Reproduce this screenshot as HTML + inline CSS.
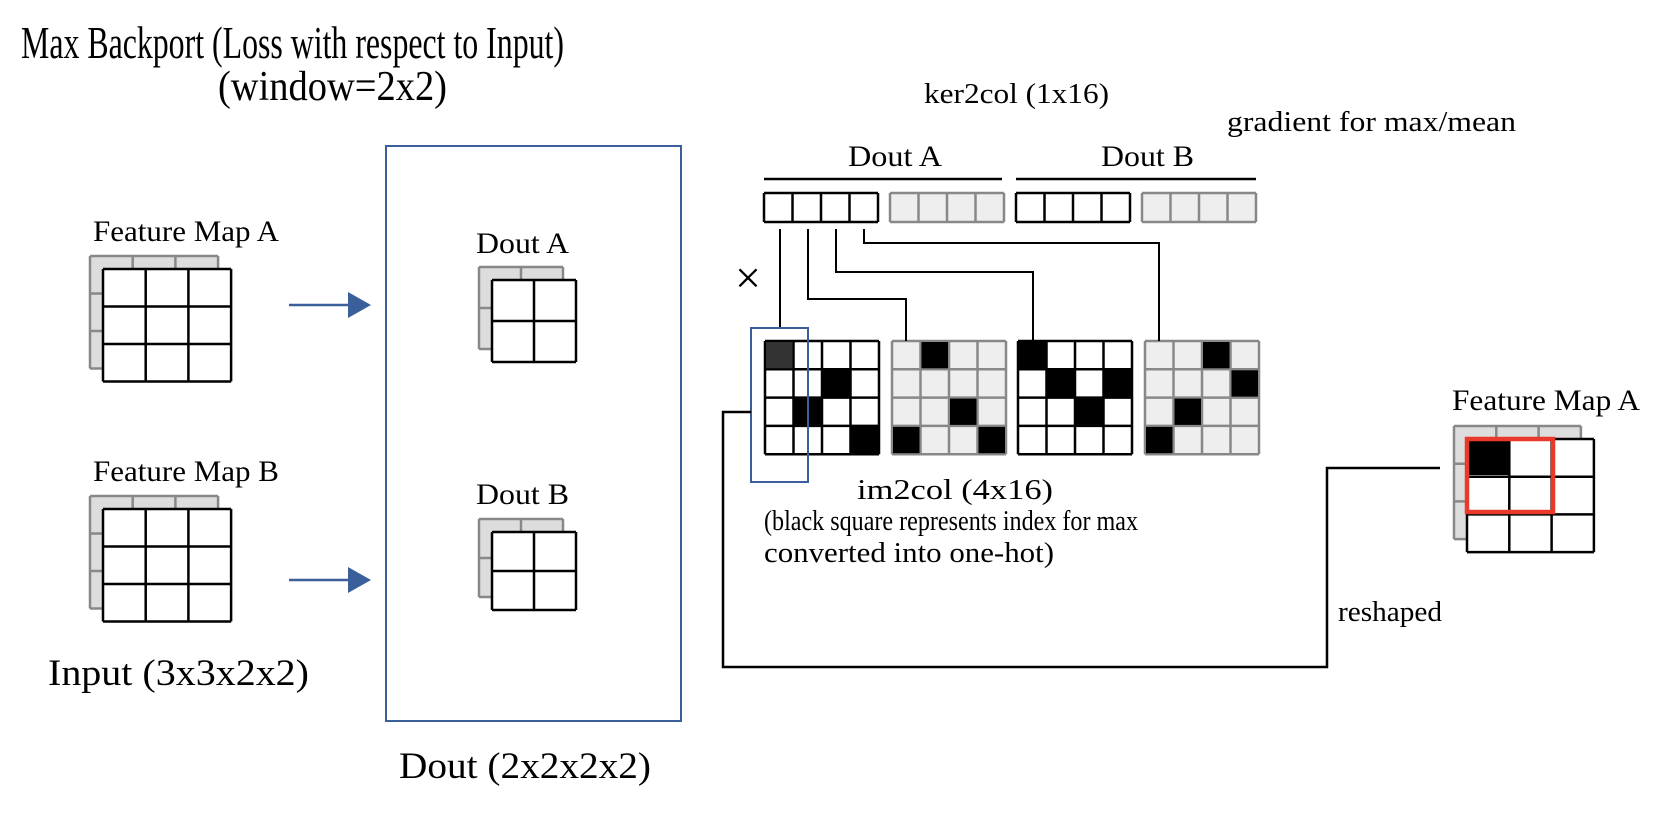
<!DOCTYPE html>
<html><head><meta charset="utf-8"><style>
html,body{margin:0;padding:0;background:#fff;}
svg{display:block;}
text{font-family:"Liberation Serif",serif;fill:#000;}
</style></head><body>
<svg id="s" width="1670" height="814" viewBox="0 0 1670 814" xmlns="http://www.w3.org/2000/svg">
<text x="21" y="58" font-size="46" textLength="543" lengthAdjust="spacingAndGlyphs">Max Backport (Loss with respect to Input)</text>
<text x="218" y="100" font-size="42" textLength="229" lengthAdjust="spacingAndGlyphs">(window=2x2)</text>
<text x="93" y="241" font-size="30" textLength="186" lengthAdjust="spacingAndGlyphs">Feature Map A</text>
<text x="93" y="481" font-size="30" textLength="186" lengthAdjust="spacingAndGlyphs">Feature Map B</text>
<text x="48" y="685" font-size="37" textLength="261" lengthAdjust="spacingAndGlyphs">Input (3x3x2x2)</text>
<rect x="386" y="146" width="295" height="575" fill="none" stroke="#3a5f9a" stroke-width="2"/>
<text x="476" y="253" font-size="30" textLength="93" lengthAdjust="spacingAndGlyphs">Dout A</text>
<text x="476" y="504" font-size="30" textLength="93" lengthAdjust="spacingAndGlyphs">Dout B</text>
<text x="399" y="778" font-size="37" textLength="252" lengthAdjust="spacingAndGlyphs">Dout (2x2x2x2)</text>
<text x="924" y="103" font-size="28" textLength="185" lengthAdjust="spacingAndGlyphs">ker2col (1x16)</text>
<text x="1227" y="131" font-size="28" textLength="289" lengthAdjust="spacingAndGlyphs">gradient for max/mean</text>
<text x="848" y="166" font-size="30" textLength="94" lengthAdjust="spacingAndGlyphs">Dout A</text>
<text x="1101" y="166" font-size="30" textLength="93" lengthAdjust="spacingAndGlyphs">Dout B</text>
<line x1="764" y1="179" x2="1002" y2="179" stroke="#000" stroke-width="2.5"/>
<line x1="1016" y1="179" x2="1256" y2="179" stroke="#000" stroke-width="2.5"/>
<text x="735" y="293" font-size="46" font-family="DejaVu Sans">×</text>
<text x="857" y="499" font-size="28" textLength="196" lengthAdjust="spacingAndGlyphs">im2col (4x16)</text>
<text x="764" y="530" font-size="28" textLength="374" lengthAdjust="spacingAndGlyphs">(black square represents index for max</text>
<text x="764" y="562" font-size="28" textLength="290" lengthAdjust="spacingAndGlyphs">converted into one-hot)</text>
<text x="1338" y="621" font-size="28" textLength="104" lengthAdjust="spacingAndGlyphs">reshaped</text>
<text x="1452" y="410" font-size="30" textLength="188" lengthAdjust="spacingAndGlyphs">Feature Map A</text>
<g id="g" fill="none"></g>
</svg>
<script>
// one-hot positions [row, col] per im2col block
const block1 = [[0,0],[1,2],[2,1],[3,3]];
const block2 = [[0,1],[2,2],[3,0],[3,3]];
const block3 = [[0,0],[1,1],[1,3],[2,2]];
const block4 = [[0,2],[1,3],[2,1],[3,0]];
const blocks = [block1, block2, block3, block4];
const blockGray = [false, true, false, true];

const NS = "http://www.w3.org/2000/svg";
const g = document.getElementById('g');
function mk(tag, at, name) {
  const e = document.createElementNS(NS, tag);
  for (const k in at) e.setAttribute(k, at[k]);
  
  
  g.appendChild(e);
  return e;
}
function grid(x, y, cols, rows, cw, ch, stroke, fill, sw, name) {
  mk('rect', {x:x, y:y, width:cols*cw, height:rows*ch, fill:fill, stroke:'none'}, name + '-bg');
  for (let i = 0; i <= cols; i++) mk('line', {x1:x+i*cw, y1:y, x2:x+i*cw, y2:y+rows*ch, stroke:stroke, 'stroke-width':sw}, name + '-vline');
  for (let j = 0; j <= rows; j++) mk('line', {x1:x, y1:y+j*ch, x2:x+cols*cw, y2:y+j*ch, stroke:stroke, 'stroke-width':sw}, name + '-hline');
}
function stack(x, y, cols, rows, cw, ch, name) {
  grid(x-13, y-13, cols, rows, cw, ch, '#888', '#ddd', 2.5, name + '-back');
  grid(x, y, cols, rows, cw, ch, '#000', '#fff', 2.5, name + '-front');
}
stack(103, 269, 3, 3, 42.7, 37.5, 'feature-map-a');
stack(103, 509, 3, 3, 42.7, 37.5, 'feature-map-b');
stack(492, 280, 2, 2, 42, 41, 'dout-a-grid');
stack(492, 532, 2, 2, 42, 39, 'dout-b-grid');

// arrows
[305, 580].forEach((y, i) => {
  mk('line', {x1:289, y1:y, x2:352, y2:y, stroke:'#3a5f9a', 'stroke-width':2.5}, 'arrow-line');
  mk('polygon', {points:`348,${y-13} 371,${y} 348,${y+13}`, fill:'#3a5f9a'}, 'arrow-head');
});

// ker2col row
const kerX = [764, 890, 1016, 1142];
kerX.forEach((x, i) => {
  const gray = i % 2 === 1;
  grid(x, 193, 4, 1, 28.5, 29, gray ? '#888' : '#000', gray ? '#eee' : '#fff', 2.5, 'ker2col-group');
});

// im2col blocks
const bx = [765, 892, 1018, 1145];
blocks.forEach((b, i) => {
  const gray = blockGray[i];
  const cw = 28.5, ch = 28.3, x0 = bx[i], y0 = 341;
  grid(x0, y0, 4, 4, cw, ch, gray ? '#888' : '#000', gray ? '#eee' : '#fff', 2.5, 'im2col-block');
  b.forEach(([r, c]) => {
    const fill = (i === 0 && r === 0 && c === 0) ? '#333' : '#000';
    mk('rect', {x:x0+c*cw+1, y:y0+r*ch+1, width:cw-2, height:ch-2, fill:fill}, 'one-hot-cell');
  });
});

// connectors
const path = (d, name, col, w) => mk('path', {d:d, stroke:col||'#000', 'stroke-width':w||2, fill:'none'}, name);
path('M780,229 V328', 'connector-1');
path('M808,229 V299 H906 V341', 'connector-2');
path('M836,229 V272 H1033 V341', 'connector-3');
path('M864,229 V243 H1159 V341', 'connector-4');
mk('rect', {x:751, y:328, width:57, height:154, fill:'none', stroke:'#3a5f9a', 'stroke-width':2}, 'highlight-column');
path('M751,412 H723 V667 H1327 V468 H1440', 'reshape-path', '#000', 2.5);

// output feature map
stack(1467, 439, 3, 3, 42.3, 37.7, 'feature-map-a-out');
mk('rect', {x:1469, y:441, width:40, height:34, fill:'#000'}, 'max-cell');
mk('rect', {x:1467, y:439, width:86, height:73, fill:'none', stroke:'#e8392a', 'stroke-width':4.5}, 'window-highlight');
</script>
</body></html>
